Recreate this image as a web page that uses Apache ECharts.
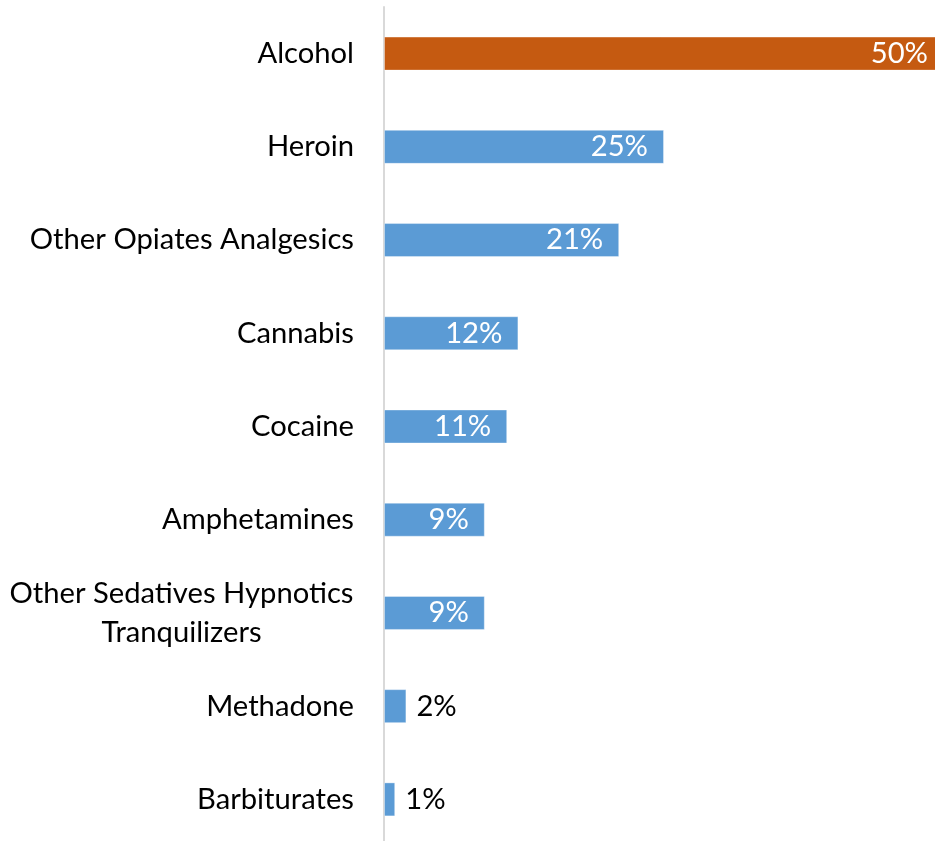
<!DOCTYPE html>
<html>
<head>
<meta charset="utf-8">
<script src="https://cdn.jsdelivr.net/npm/echarts@6/dist/echarts.min.js"></script>
<style>
  html, body { margin: 0; padding: 0; background: #fff; }
  #chart { width: 935px; height: 841px; }
</style>
</head>
<body>
<div id="chart"></div>
<script>
// Substances, top to bottom
const substances = [
  'Alcohol',
  'Heroin',
  'Other Opiates Analgesics',
  'Cannabis',
  'Cocaine',
  'Amphetamines',
  'Other Sedatives Hypnotics\nTranquilizers',
  'Methadone',
  'Barbiturates'
];
// Share of admissions, percent
const shares = [50, 25, 21, 12, 11, 9, 9, 2, 1];
// Values small enough that their labels sit outside the bar
const outsideThreshold = 5;

const FONT = 'Lato';
const FONT_SIZE = 29.2;

// Width of the longest line of the wrapped label, so both lines centre under it
const measureCtx = document.createElement('canvas').getContext('2d');
measureCtx.font = FONT_SIZE + 'px ' + FONT;
const wrapWidth = Math.ceil(measureCtx.measureText('Other Sedatives Hypnotics').width);

const colors = shares.map((v, i) => (i === 0 ? '#C55A11' : '#5B9BD5'));

const chart = echarts.init(document.getElementById('chart'), null, { renderer: 'canvas' });

chart.setOption({
  animation: false,
  backgroundColor: '#ffffff',
  // the plot runs slightly past the right edge of the page
  grid: {
    left: 384, right: -9, top: 7, bottom: -5,
    containLabel: false,
    outerBoundsMode: 'none'
  },
  xAxis: {
    type: 'value',
    min: 0,
    max: 50,
    show: false
  },
  yAxis: {
    type: 'category',
    inverse: true,
    data: substances,
    axisLine: { show: true, lineStyle: { color: '#d9d9d9', width: 2 } },
    axisTick: { show: false },
    splitLine: { show: false },
    axisLabel: {
      margin: 30,
      color: '#000000',
      fontFamily: FONT,
      fontSize: FONT_SIZE,
      lineHeight: 39,
      formatter: function (value) {
        if (value.indexOf('\n') >= 0) {
          return value.split('\n').map(s => '{c|' + s + '}').join('\n');
        }
        return value;
      },
      rich: {
        c: {
          width: wrapWidth,
          align: 'center',
          fontFamily: FONT,
          fontSize: FONT_SIZE,
          lineHeight: 39,
          color: '#000000'
        }
      }
    }
  },
  series: [{
    type: 'bar',
    barWidth: 34,
    clip: true,
    data: shares.map((v, i) => ({
      value: v,
      itemStyle: { color: colors[i] },
      label: v < outsideThreshold
        ? { position: 'right', distance: 10, color: '#000000' }
        : { position: 'insideRight', distance: 16, color: '#ffffff' }
    })),
    itemStyle: { borderColor: 'rgba(255,255,255,0.35)', borderWidth: 1 },
    label: {
      show: true,
      fontFamily: FONT,
      fontSize: FONT_SIZE,
      formatter: p => p.value + '%'
    }
  }]
});
</script>
</body>
</html>
